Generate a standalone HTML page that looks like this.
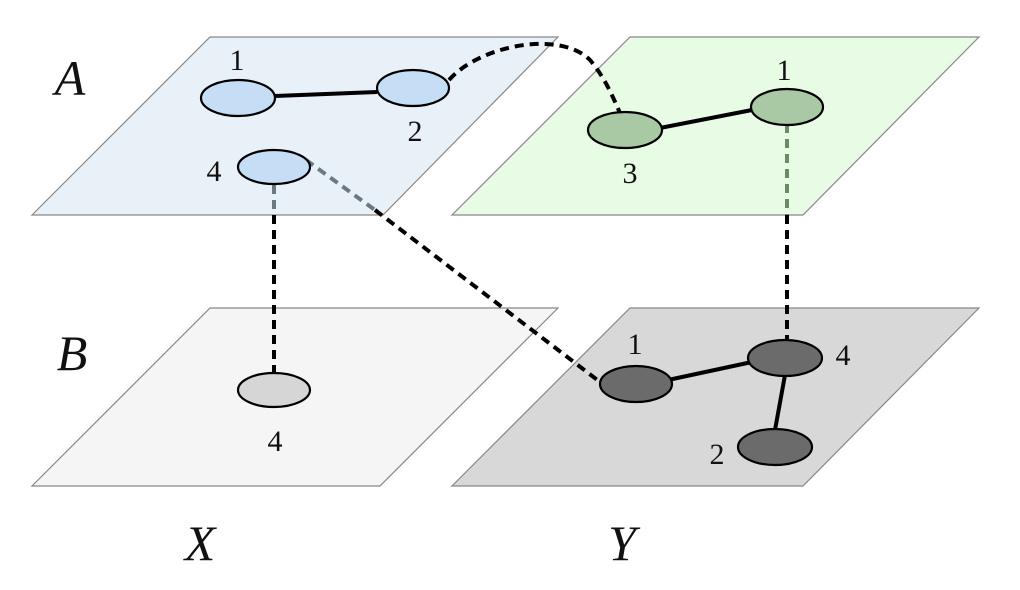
<!DOCTYPE html>
<html><head><meta charset="utf-8"><style>html,body{margin:0;padding:0;background:#fff}svg{display:block}</style></head>
<body>
<svg width="1020" height="590" viewBox="0 0 1020 590" xmlns="http://www.w3.org/2000/svg" font-family="Liberation Serif, serif">
<g stroke="#888" stroke-width="1.2">
<polygon points="210,37 558,37 383,215 32,215" fill="#e8f0f8"/>
<polygon points="630,37 979,37 803,215 452,215" fill="#e8fbe4"/>
<polygon points="210,308 558,308 380,486 32,486" fill="#f5f5f5"/>
<polygon points="630,308 979,308 803,486 452,486" fill="#d8d8d8"/>
</g>
<g fill="none" stroke-width="4" stroke-dasharray="9,6">
<line x1="274" y1="185" x2="274" y2="215" stroke="#6a7a80"/>
<line x1="274" y1="215" x2="274" y2="373" stroke="#000"/>
<line x1="306" y1="160" x2="375" y2="210" stroke="#6a7a80"/>
<line x1="375" y1="210" x2="600" y2="382" stroke="#000"/>
<line x1="787" y1="124" x2="787" y2="215" stroke="#6a8a68"/>
<line x1="787" y1="215" x2="787" y2="340" stroke="#000"/>
<path d="M449,80 C480,45 560,30 590,60 C605,78 612,95 620,113" stroke="#000"/>
</g>
<g stroke="#000" stroke-width="4">
<line x1="275" y1="96" x2="377" y2="92"/>
<line x1="660" y1="128" x2="752" y2="110"/>
<line x1="668" y1="380" x2="752" y2="362"/>
<line x1="785" y1="375" x2="775" y2="430"/>
</g>
<g stroke="#000" stroke-width="2.2">
<ellipse cx="238" cy="98" rx="37" ry="18" fill="#c5def5"/>
<ellipse cx="413" cy="88" rx="36" ry="18" fill="#c5def5"/>
<ellipse cx="274" cy="167" rx="36" ry="17" fill="#c5def5"/>
<ellipse cx="625" cy="130" rx="37" ry="18" fill="#a9c9a4"/>
<ellipse cx="787" cy="107" rx="36" ry="18" fill="#a9c9a4"/>
<ellipse cx="274" cy="390" rx="36" ry="17" fill="#d6d6d6"/>
<ellipse cx="636" cy="384" rx="36" ry="18" fill="#6b6b6b"/>
<ellipse cx="785" cy="358" rx="37" ry="18" fill="#6b6b6b"/>
<ellipse cx="775" cy="447" rx="37" ry="18" fill="#6b6b6b"/>
</g>
<g font-size="30" text-anchor="middle" fill="#111">
<text x="237" y="70">1</text>
<text x="415" y="141">2</text>
<text x="214" y="181">4</text>
<text x="630" y="183">3</text>
<text x="784" y="80">1</text>
<text x="275" y="451">4</text>
<text x="635" y="354">1</text>
<text x="843" y="365">4</text>
<text x="717" y="464">2</text>
</g>
<g font-size="50" font-style="italic" text-anchor="middle" fill="#111">
<text x="70" y="95">A</text>
<text x="72" y="370">B</text>
<text x="200" y="560">X</text>
<text x="622" y="560">Y</text>
</g>
</svg>
</body></html>
